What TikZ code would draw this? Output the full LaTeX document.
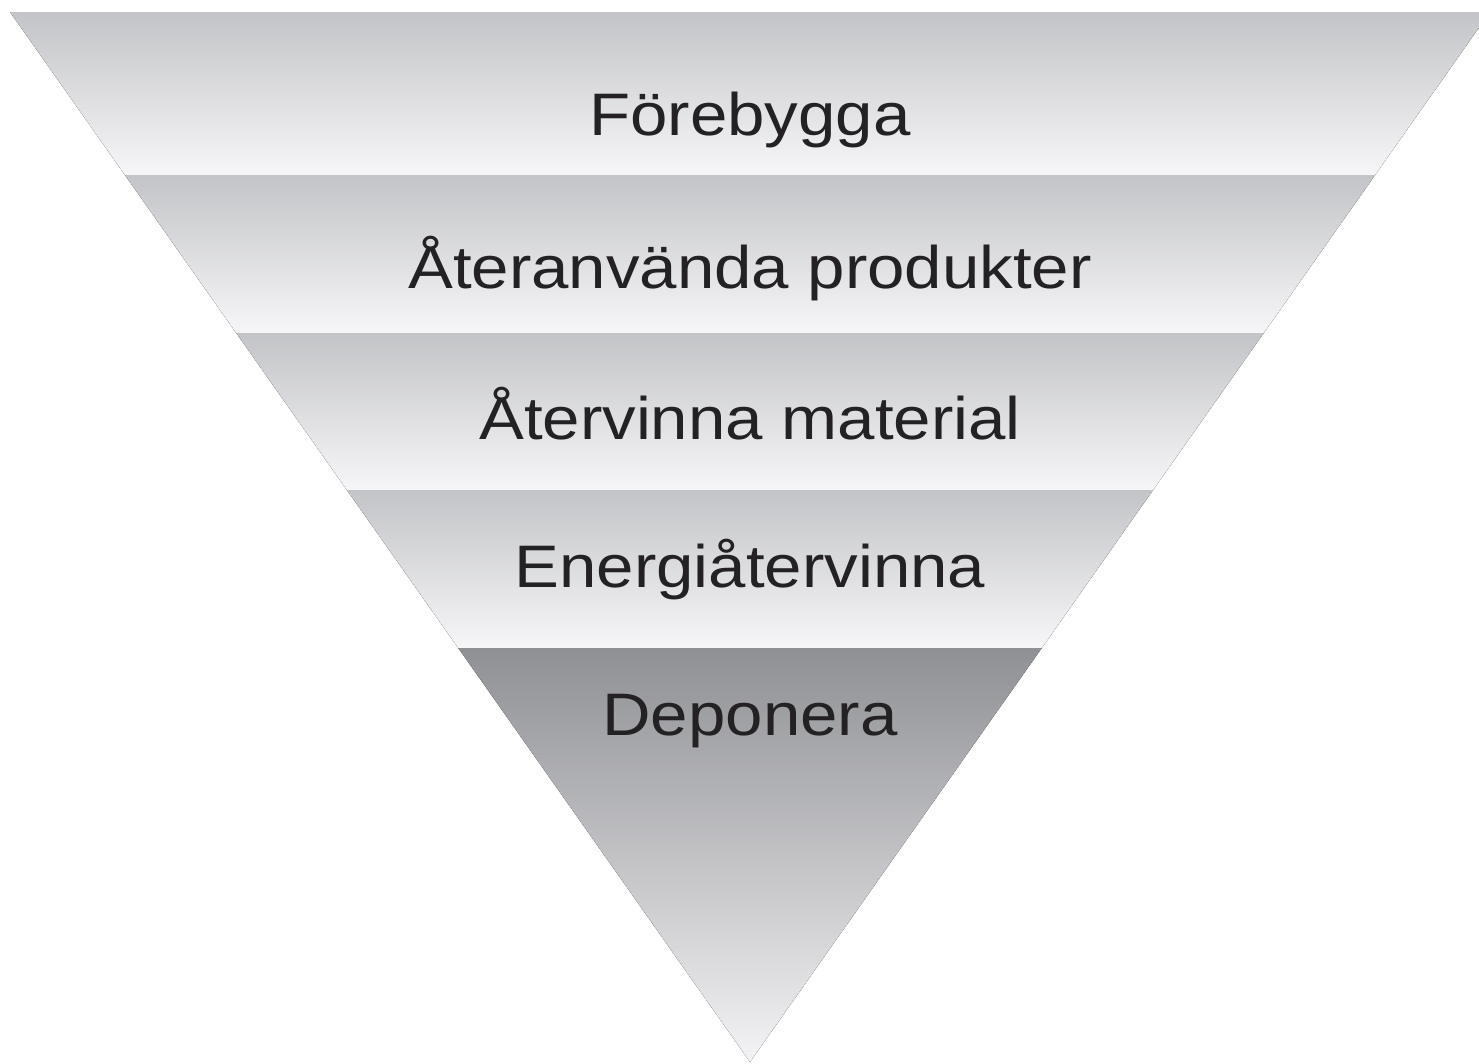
\documentclass[tikz,border=0pt]{standalone}
\usepackage{fontspec}
\setmainfont[FakeStretch=1.12]{Liberation Sans}
\usepackage{tikz}

\definecolor{bandtop}{RGB}{195,196,199}
\definecolor{bandbot}{RGB}{246,246,248}
\definecolor{deptop}{RGB}{143,144,148}
\definecolor{depbot}{RGB}{243,243,245}
\definecolor{labeltext}{RGB}{35,33,36}

\tikzset{
  band/.style={top color=bandtop, bottom color=bandbot, draw=none},
  levellabel/.style={anchor=base, inner sep=0.75pt, text=labeltext,
    font=\fontsize{45}{54}\selectfont}
}

\begin{document}
\begin{tikzpicture}[x=0.75pt,y=0.75pt,yscale=-1,xscale=1]
    \useasboundingbox (0,0) rectangle (1479,1064);
    \begin{scope}
    \clip (0,0) rectangle (1479,1064);
    %Shape: Trapezoid [id:band1]
    \fill [band] (10,12) -- (1490,12) -- (1375.1,175) -- (124.9,175) -- cycle ;
    %Shape: Trapezoid [id:band2]
    \fill [band] (124.9,175) -- (1375.1,175) -- (1263.8,333) -- (236.2,333) -- cycle ;
    %Shape: Trapezoid [id:band3]
    \fill [band] (236.2,333) -- (1263.8,333) -- (1153.1,490) -- (346.9,490) -- cycle ;
    %Shape: Trapezoid [id:band4]
    \fill [band] (346.9,490) -- (1153.1,490) -- (1041.8,648) -- (458.2,648) -- cycle ;
    %Shape: Triangle [id:apex]
    \fill [top color=deptop, bottom color=depbot] (458.2,648) -- (1041.8,648) -- (750,1062) -- cycle ;
    \end{scope}

    % Text Node
    \node [levellabel] (forebygga) at (750,135) {Förebygga};
    % Text Node
    \node [levellabel] (ateranvanda) at (750,288) {Återanvända produkter};
    % Text Node
    \node [levellabel] (atervinna) at (750,439) {Återvinna material};
    % Text Node
    \node [levellabel] (energi) at (750,587) {Energiåtervinna};
    % Text Node
    \node [levellabel] (deponera) at (750,735) {Deponera};

\end{tikzpicture}
\end{document}
